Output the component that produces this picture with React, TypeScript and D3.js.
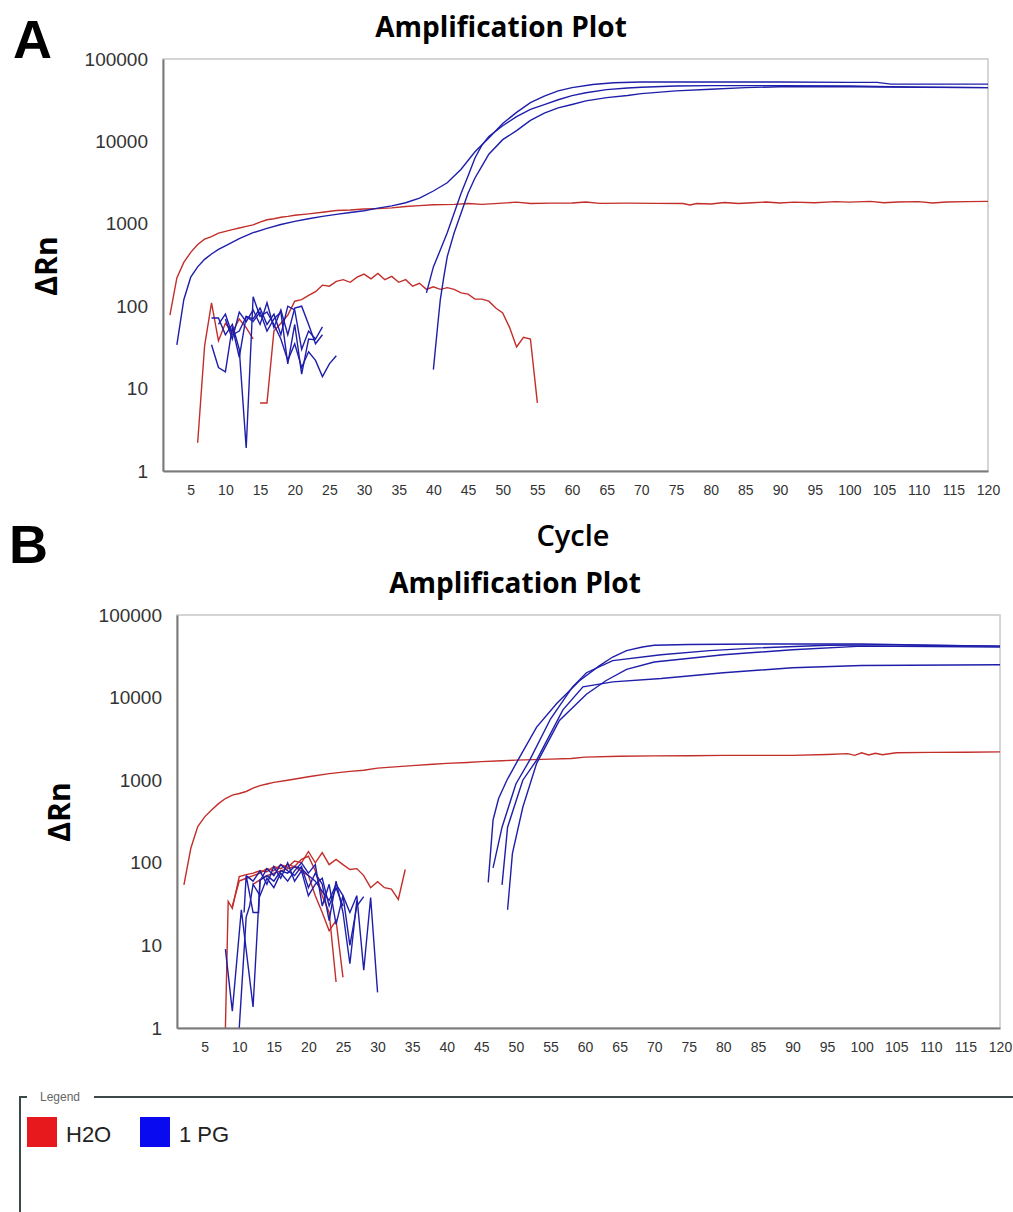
import React, { useEffect, useRef } from "react";
import * as d3 from "d3";

type Pt = [number, number];

// ---- panel A : H2O (red) ----
const a_h2o_high: Pt[] = [
  [2, 78], [3, 220], [4, 340], [5, 450], [6, 560], [7, 650], [8, 700], [9, 770], [10, 810],
  [11, 850], [12, 890], [13, 930], [14, 970], [15, 1050], [16, 1120], [17, 1150], [18, 1200],
  [19, 1230], [20, 1270], [22, 1320], [24, 1380], [26, 1450], [28, 1470], [30, 1510], [32, 1530],
  [34, 1560], [36, 1620], [38, 1660], [40, 1700], [43, 1720], [45, 1760], [47, 1720], [50, 1780],
  [52, 1830], [54, 1760], [57, 1780], [60, 1790], [62, 1840], [64, 1770], [68, 1780], [72, 1770],
  [76, 1760], [77, 1690], [78, 1760], [80, 1740], [82, 1810], [84, 1760], [86, 1800], [88, 1840],
  [90, 1790], [92, 1830], [95, 1800], [98, 1860], [100, 1830], [103, 1870], [105, 1800],
  [107, 1840], [110, 1860], [112, 1790], [114, 1840], [117, 1860], [120, 1870],
];
const a_h2o_noise1: Pt[] = [
  [6, 2.2], [7, 33], [8, 110], [9, 38], [10, 62], [11, 48], [12, 70], [13, 55], [14, 40],
];
const a_h2o_noise2: Pt[] = [
  [15, 6.7], [16, 6.7], [17, 50], [18, 62], [19, 78], [20, 115], [21, 120], [22, 135], [23, 150],
  [24, 180], [25, 175], [26, 200], [27, 210], [28, 195], [29, 225], [30, 245], [31, 215], [32, 250],
  [33, 210], [34, 230], [35, 195], [36, 210], [37, 175], [38, 190], [39, 160], [40, 172], [41, 160],
  [42, 168], [43, 160], [44, 145], [45, 140], [46, 122], [47, 122], [48, 115], [49, 95], [50, 83],
  [51, 55], [52, 32], [53, 42], [54, 40], [55, 6.7],
];

// ---- panel A : 1 PG (blue) ----
const a_pg_early: Pt[] = [
  [3, 34], [4, 120], [5, 225], [6, 300], [7, 370], [8, 430], [9, 490], [10, 540], [12, 660],
  [14, 780], [16, 880], [18, 980], [20, 1070], [22, 1150], [24, 1230], [26, 1300], [28, 1370],
  [30, 1440], [32, 1550], [34, 1650], [36, 1800], [38, 2050], [40, 2500], [42, 3150], [44, 4600],
  [46, 7500], [48, 11000], [50, 16500], [52, 22500], [54, 29500], [56, 35500], [58, 41000],
  [60, 45000], [63, 49000], [66, 51500], [70, 52500], [80, 52500], [90, 52500], [100, 52000],
  [104, 52000], [106, 49500], [120, 49500],
];
const a_pg_late1: Pt[] = [
  [39, 145], [40, 300], [41, 480], [42, 780], [43, 1350], [44, 2350], [45, 3800], [46, 6300],
  [47, 9000], [48, 11500], [50, 15500], [52, 20000], [54, 24500], [56, 28000], [58, 32000],
  [60, 36000], [62, 39000], [65, 42500], [68, 44500], [70, 45500], [75, 47000], [80, 47500],
  [90, 47500], [100, 47000], [110, 45500], [120, 45000],
];
const a_pg_late2: Pt[] = [
  [40, 17], [40.6, 56], [41, 120], [41.5, 225], [42, 400], [43, 780], [44, 1350], [45, 2350],
  [46, 3600], [47, 5000], [48, 7000], [50, 10500], [52, 13500], [54, 18000], [56, 22000],
  [58, 25500], [60, 28000], [62, 31000], [65, 34000], [68, 36000], [70, 38000], [75, 41000],
  [80, 43000], [85, 45000], [90, 46000], [100, 46000], [120, 45000],
];
const a_pg_noise1: Pt[] = [
  [8, 72], [9, 72], [10, 45], [11, 60], [12, 30], [13, 1.9], [14, 130], [15, 75], [16, 85],
  [17, 60], [18, 40], [19, 22], [20, 35], [21, 18], [22, 28], [23, 22], [24, 14], [25, 20], [26, 25],
];
const a_pg_noise2: Pt[] = [
  [8, 34], [9, 18], [10, 16], [11, 56], [12, 24], [13, 75], [14, 70], [15, 95], [16, 60],
  [17, 80], [18, 45], [19, 100], [20, 90], [21, 30], [22, 50], [23, 40], [24, 56],
];
const a_pg_noise3: Pt[] = [
  [9, 60], [10, 80], [11, 45], [12, 50], [13, 75], [14, 65], [15, 85], [16, 50], [17, 70],
  [18, 85], [19, 20], [20, 60], [21, 15], [22, 40], [23, 39],
];
const a_pg_noise4: Pt[] = [
  [10, 70], [11, 40], [12, 85], [13, 65], [14, 90], [15, 60], [16, 110], [17, 55], [18, 90],
  [19, 45], [20, 95], [21, 100], [22, 60], [23, 35], [24, 45],
];

// ---- panel B : H2O (red) ----
const b_h2o_high: Pt[] = [
  [2, 54], [3, 150], [4, 275], [5, 360], [6, 435], [7, 520], [8, 600], [9, 660], [10, 690],
  [11, 730], [12, 800], [13, 860], [14, 900], [15, 940], [17, 1000], [20, 1100], [23, 1200],
  [26, 1280], [28, 1320], [30, 1400], [33, 1460], [35, 1500], [38, 1560], [40, 1600], [43, 1640],
  [45, 1680], [48, 1720], [50, 1750], [55, 1800], [58, 1830], [60, 1900], [65, 1950], [70, 1970],
  [75, 1980], [80, 2000], [85, 2000], [90, 2000], [95, 2050], [98, 2100], [99, 2000], [100, 2150],
  [101, 2020], [102, 2120], [103, 2030], [105, 2150], [110, 2170], [115, 2180], [120, 2200],
];
const b_h2o_noise1: Pt[] = [
  [8, 1], [8.4, 34], [9, 28], [10, 68], [11, 72], [12, 75], [13, 80], [14, 78], [15, 90],
  [16, 85], [17, 95], [18, 90], [19, 110], [20, 120], [21, 80], [22, 40], [23, 25], [24, 3.6],
];
const b_h2o_noise2: Pt[] = [
  [9, 30], [10, 60], [11, 65], [12, 70], [13, 75], [14, 85], [15, 80], [16, 95], [17, 88],
  [18, 105], [19, 100], [20, 137], [21, 100], [22, 133], [23, 95], [24, 110], [25, 95], [26, 83],
  [27, 85], [28, 70], [29, 50], [30, 59], [31, 50], [32, 48], [33, 36], [34, 83],
];
const b_h2o_noise3: Pt[] = [
  [12, 55], [14, 70], [16, 80], [18, 90], [20, 70], [21, 40], [22, 25], [23, 15], [24, 20], [25, 4.1],
];

// ---- panel B : 1 PG (blue) ----
const b_pg_1: Pt[] = [
  [46, 58], [46.7, 330], [47.5, 600], [48.7, 1000], [50.3, 1750], [53, 4400], [55.9, 8500],
  [59.2, 16000], [62, 24000], [64, 31000], [66, 37000], [68.3, 41000], [70, 43000], [75, 44000],
  [85, 44500], [100, 44500], [110, 43000], [120, 42000],
];
const b_pg_2: Pt[] = [
  [46.7, 87], [48, 270], [50, 900], [52, 1750], [55, 5500], [58.2, 13500], [60.2, 20000],
  [64, 28000], [71, 33000], [78, 37000], [85, 40000], [95, 43000], [105, 43500], [120, 42000],
];
const b_pg_3: Pt[] = [
  [48, 54], [48.8, 270], [51, 1000], [53, 1750], [56.8, 7100], [59.7, 13500], [64, 15500],
  [71, 17000], [80, 20000], [90, 23000], [100, 24500], [120, 25000],
];
const b_pg_4: Pt[] = [
  [48.8, 27], [49.5, 130], [51, 470], [53, 1600], [56.3, 5300], [60.2, 11000], [63, 16000],
  [66, 22000], [70, 27000], [80, 33000], [90, 38000], [100, 42000], [120, 41000],
];
const b_pg_noise1: Pt[] = [
  [8, 9], [9, 1.6], [10.3, 27], [12, 1.8], [13, 62], [14, 70], [15, 60], [16, 80], [17, 75],
  [18, 90], [19, 85], [20, 70], [21, 60], [22, 45], [23, 35], [24, 55], [25, 40], [26, 25],
  [27, 40], [28, 5], [29, 38], [30, 2.7],
];
const b_pg_noise2: Pt[] = [
  [10, 1], [11, 22], [11.5, 30], [12, 55], [13, 40], [14, 65], [15, 50], [16, 75], [17, 60],
  [18, 80], [19, 100], [20, 75], [21, 95], [22, 30], [23, 55], [24, 18], [25, 40], [26, 10],
  [27, 30], [28, 39],
];
const b_pg_noise3: Pt[] = [
  [10.7, 25], [11, 70], [12, 25], [12.8, 25], [13, 60], [14, 85], [15, 70], [16, 95], [17, 80],
  [18, 70], [19, 90], [20, 50], [21, 75], [22, 55], [23, 20], [24, 60], [25, 25], [26, 6], [27, 35],
];
const b_pg_noise4: Pt[] = [
  [11, 70], [12, 60], [13, 80], [14, 55], [15, 90], [16, 65], [17, 100], [18, 60], [19, 80],
  [20, 40], [21, 55], [22, 65], [23, 30], [24, 50], [25, 30],
];

const yTicks = [1, 10, 100, 1000, 10000, 100000];
const xTicks = d3.range(5, 121, 5);
const legendItems = [
  { label: "H2O", color: "#e8191c" },
  { label: "1 PG", color: "#0a0af0" },
];

const RED = "#c22e2a";
const BLUE = "#1e1eaa";

const panels = [
  {
    letter: "A",
    box: { left: 163, right: 988, top: 59, bottom: 471 },
    red: [a_h2o_high, a_h2o_noise1, a_h2o_noise2],
    blue: [a_pg_early, a_pg_late1, a_pg_late2, a_pg_noise1, a_pg_noise2, a_pg_noise3, a_pg_noise4],
    title: { x: 501, y: 37 },
    letterPos: { x: 13, y: 58 },
    ylab: { x: 57, y: 266 },
    cycle: { x: 573, y: 546 },
  },
  {
    letter: "B",
    box: { left: 177, right: 1000, top: 615, bottom: 1028 },
    red: [b_h2o_high, b_h2o_noise1, b_h2o_noise2, b_h2o_noise3],
    blue: [b_pg_1, b_pg_2, b_pg_3, b_pg_4, b_pg_noise1, b_pg_noise2, b_pg_noise3, b_pg_noise4],
    title: { x: 515, y: 593 },
    letterPos: { x: 9, y: 563 },
    ylab: { x: 70, y: 812 },
    cycle: null,
  },
];

const App = () => {
  const ref = useRef<SVGSVGElement>(null);

  useEffect(() => {
    const svg = d3.select(ref.current);
    svg.selectAll("*").remove();

    panels.forEach((p) => {
      const b = p.box;
      const x = d3.scaleLinear().domain([1, 120]).range([b.left, b.right]);
      const y = d3.scaleLog().domain([1, 100000]).range([b.bottom, b.top]);
      const g = svg.append("g");

      g.append("rect")
        .attr("x", b.left).attr("y", b.top)
        .attr("width", b.right - b.left).attr("height", b.bottom - b.top)
        .attr("fill", "#fff").attr("stroke", "#c8c8c8").attr("stroke-width", 1.5);

      const line = d3.line<Pt>().x((d) => x(d[0])).y((d) => y(d[1]));

      g.append("g").selectAll("path").data(p.red).join("path")
        .attr("d", (d) => line(d))
        .attr("fill", "none").attr("stroke", RED).attr("stroke-width", 1.4);
      g.append("g").selectAll("path").data(p.blue).join("path")
        .attr("d", (d) => line(d))
        .attr("fill", "none").attr("stroke", BLUE).attr("stroke-width", 1.4);

      // axes
      g.append("g")
        .attr("transform", `translate(${b.left},0)`)
        .call(d3.axisLeft(y).tickValues(yTicks).tickFormat(d3.format("d")).tickSize(0).tickPadding(15))
        .call((s) => s.select(".domain").attr("stroke", "#7a7a7a").attr("stroke-width", 2))
        .call((s) => s.selectAll("text")
          .attr("font-family", "Liberation Sans, Arial, sans-serif")
          .attr("font-size", 19).attr("fill", "#333"));

      g.append("g")
        .attr("transform", `translate(0,${b.bottom})`)
        .call(d3.axisBottom(x).tickValues(xTicks).tickSize(0).tickPadding(14))
        .call((s) => s.select(".domain").attr("stroke", "#7a7a7a").attr("stroke-width", 2))
        .call((s) => s.selectAll("text")
          .attr("font-family", "Liberation Sans Narrow, Arial Narrow, Liberation Sans, sans-serif")
          .attr("font-size", 14).attr("fill", "#333"));

      g.append("text")
        .attr("x", p.title.x).attr("y", p.title.y)
        .attr("text-anchor", "middle")
        .attr("font-family", "Open Sans, DejaVu Sans, sans-serif")
        .attr("font-weight", "bold").attr("font-size", 28)
        .text("Amplification Plot");

      g.append("text")
        .attr("x", p.letterPos.x).attr("y", p.letterPos.y)
        .attr("font-family", "Liberation Sans, Arial, sans-serif")
        .attr("font-weight", "bold").attr("font-size", 54)
        .text(p.letter);

      g.append("text")
        .attr("transform", `translate(${p.ylab.x},${p.ylab.y}) rotate(-90)`)
        .attr("text-anchor", "middle")
        .attr("font-family", "Open Sans, DejaVu Sans, sans-serif")
        .attr("font-weight", "bold").attr("font-size", 30)
        .text("ΔRn");

      if (p.cycle) {
        g.append("text")
          .attr("x", p.cycle.x).attr("y", p.cycle.y)
          .attr("text-anchor", "middle")
          .attr("font-family", "Open Sans, DejaVu Sans, sans-serif")
          .attr("font-weight", 600).attr("font-size", 29)
          .text("Cycle");
      }
    });

    // legend
    const lg = svg.append("g");
    lg.append("path")
      .attr("d", "M20,1212 V1097 H27 M94,1097 H1013")
      .attr("fill", "none").attr("stroke", "#3c4a4a").attr("stroke-width", 2);
    lg.append("text")
      .attr("x", 40).attr("y", 1101)
      .attr("font-family", "Liberation Sans, Arial, sans-serif")
      .attr("font-size", 12).attr("fill", "#666")
      .text("Legend");
    const xs = [27, 140];
    legendItems.forEach((it, i) => {
      lg.append("rect")
        .attr("x", xs[i]).attr("y", 1117).attr("width", 30).attr("height", 30)
        .attr("fill", it.color);
      lg.append("text")
        .attr("x", xs[i] + 39).attr("y", 1142)
        .attr("font-family", "Liberation Sans, Arial, sans-serif")
        .attr("font-size", 22).attr("fill", "#222")
        .text(it.label);
    });
  }, []);

  return (
    <svg
      ref={ref}
      width={1013}
      height={1212}
      style={{ position: "absolute", left: 0, top: 0, background: "#fff" }}
    />
  );
};

export default App;
